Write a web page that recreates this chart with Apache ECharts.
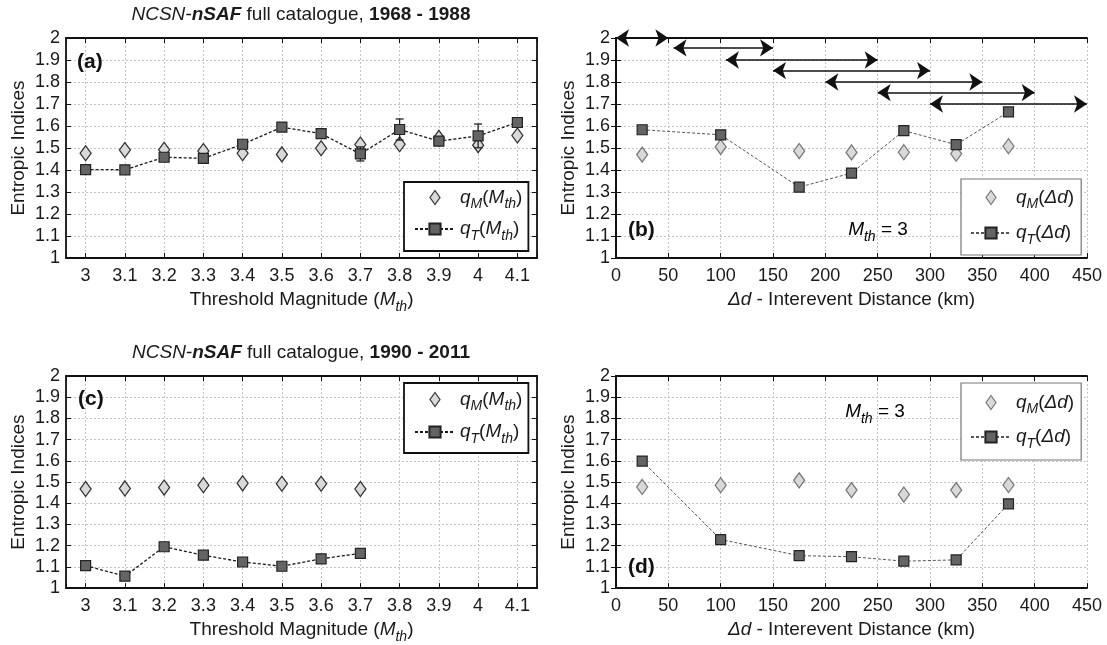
<!DOCTYPE html>
<html>
<head>
<meta charset="utf-8">
<script src="https://cdn.jsdelivr.net/npm/echarts@6/dist/echarts.min.js"></script>
<style>html,body{margin:0;padding:0;background:#fff;}#c{width:1107px;height:645px;}</style>
</head>
<body>
<div id="c"></div>
<script>
// ---------------- data ----------------
const magA = [3, 3.1, 3.2, 3.3, 3.4, 3.5, 3.6, 3.7, 3.8, 3.9, 4.0, 4.1];
const qM_A = [1.476, 1.491, 1.492, 1.486, 1.476, 1.471, 1.499, 1.516, 1.517, 1.546, 1.513, 1.557];
const qT_A = [1.402, 1.401, 1.458, 1.453, 1.517, 1.595, 1.565, 1.473, 1.584, 1.531, 1.555, 1.616];
const qT_A_err = [0, 0, 0, 0, 0, 0, 0, 0.032, 0.048, 0, 0.054, 0];

const distB = [25, 100, 175, 225, 275, 325, 375];
const qM_B = [1.470, 1.505, 1.486, 1.480, 1.481, 1.474, 1.508];
const qT_B = [1.583, 1.560, 1.322, 1.386, 1.579, 1.515, 1.664];
const arrowStartB = [0, 55, 105, 150, 200, 250, 300];
const arrowEndB = [50, 150, 250, 300, 350, 400, 450];
const arrowLevelB = [2.0, 1.955, 1.9, 1.852, 1.8, 1.752, 1.7];

const magC = [3, 3.1, 3.2, 3.3, 3.4, 3.5, 3.6, 3.7];
const qM_C = [1.467, 1.470, 1.474, 1.485, 1.494, 1.492, 1.492, 1.467];
const qT_C = [1.106, 1.056, 1.195, 1.155, 1.123, 1.103, 1.138, 1.164];

const distD = [25, 100, 175, 225, 275, 325, 375];
const qM_D = [1.477, 1.485, 1.508, 1.462, 1.441, 1.462, 1.486];
const qT_D = [1.599, 1.229, 1.153, 1.148, 1.127, 1.133, 1.397];

const yMin = 1, yMax = 2, yStep = 0.1;
const distMin = 0, distMax = 450, distStep = 50;
const magMin = 2.95, magMax = 4.15;

// ---------------- styles ----------------
const FONT = '"Liberation Sans", Arial, Helvetica, sans-serif';
const TXT = '#1a1a1a';
const FS = 18;
const FN = 19;

function richSet(fs, sub) {
  return {
    n: { fontSize: fs, fontFamily: FONT, color: TXT, fontWeight: 'normal', lineHeight: 28, verticalAlign: 'middle' },
    q: { fontSize: fs, fontFamily: FONT, color: TXT, fontWeight: 'normal', fontStyle: 'italic', lineHeight: 28, verticalAlign: 'middle' },
    s: { fontSize: sub, fontFamily: FONT, color: TXT, fontWeight: 'normal', fontStyle: 'italic', lineHeight: 14, verticalAlign: 'bottom' }
  };
}
const richName = richSet(FN, 14);
const richLegend = richSet(19, 14);

const legendLabels = {
  qM_a: '{q|q}{s|M}{n|(}{q|M}{s|th}{n|)}',
  qT_a: '{q|q}{s|T}{n|(}{q|M}{s|th}{n|)}',
  qM_c: '{q|q}{s|M}{n|(}{q|M}{s|th}{n|)}',
  qT_c: '{q|q}{s|T}{n|(}{q|M}{s|th}{n|)}',
  qM_b: '{q|q}{s|M}{n|(}{q|Δd}{n|)}',
  qT_b: '{q|q}{s|T}{n|(}{q|Δd}{n|)}',
  qM_d: '{q|q}{s|M}{n|(}{q|Δd}{n|)}',
  qT_d: '{q|q}{s|T}{n|(}{q|Δd}{n|)}'
};

const grids = [
  { left: 66, top: 38, width: 471, height: 220 },
  { left: 616, top: 38, width: 471, height: 220 },
  { left: 66, top: 376, width: 471, height: 220 },
  { left: 616, top: 376, width: 471, height: 220 }
];

const splitLineStyle = { show: true, lineStyle: { color: '#c4c4c4', type: [2, 2], width: 1 } };
const labelStyle = { fontSize: FS, fontFamily: FONT, color: TXT };
const axisLineStyle = { show: true, lineStyle: { color: '#111', width: 1.8 } };

function magLabel(v) {
  const t = v * 10;
  if (Math.abs(Math.round(t) - t) > 1e-6) return '';
  return String(Math.round(t) / 10);
}

const xNameMag = 'Threshold Magnitude ({q|M}{s|th}{n|)}';
const xNameDist = '{q|Δd}{n| - Interevent Distance (km)}';

function xAxisMain(gi, isMag, name) {
  const a = {
    type: 'value', gridIndex: gi, position: 'bottom',
    min: isMag ? magMin : distMin, max: isMag ? magMax : distMax,
    axisLine: axisLineStyle,
    axisTick: { show: true, inside: true, length: 5, lineStyle: { color: '#111' } },
    axisLabel: Object.assign({ margin: 9, formatter: isMag ? magLabel : '{value}' }, labelStyle),
    splitLine: splitLineStyle,
    name: name, nameLocation: 'middle', nameGap: 25,
    nameTextStyle: { rich: richName, lineHeight: 28, fontSize: FN, fontFamily: FONT, color: TXT }
  };
  if (isMag) { a.splitNumber = 12; } else { a.interval = distStep; }
  return a;
}
function xAxisTop(gi, isMag) {
  const a = {
    type: 'value', gridIndex: gi, position: 'top',
    min: isMag ? magMin : distMin, max: isMag ? magMax : distMax,
    axisLine: axisLineStyle,
    axisTick: { show: true, inside: true, length: 5, lineStyle: { color: '#111' } },
    axisLabel: { show: false }, splitLine: { show: false }
  };
  if (isMag) { a.splitNumber = 12; } else { a.interval = distStep; }
  return a;
}
function yAxisMain(gi) {
  return {
    type: 'value', gridIndex: gi, position: 'left', min: yMin, max: yMax, interval: yStep,
    axisLine: axisLineStyle,
    axisTick: { show: true, inside: true, length: 5, lineStyle: { color: '#111' } },
    axisLabel: Object.assign({ margin: 6 }, labelStyle),
    splitLine: splitLineStyle,
    name: 'Entropic Indices', nameLocation: 'middle', nameGap: 38,
    nameTextStyle: { fontSize: FN, fontFamily: FONT, color: TXT }
  };
}
function yAxisRight(gi) {
  return {
    type: 'value', gridIndex: gi, position: 'right', min: yMin, max: yMax, interval: yStep,
    axisLine: axisLineStyle,
    axisTick: { show: true, inside: true, length: 5, lineStyle: { color: '#111' } },
    axisLabel: { show: false }, splitLine: { show: false }
  };
}

function diamondSeries(name, gi, xs, ys, border) {
  return {
    type: 'scatter', name: name, xAxisIndex: gi, yAxisIndex: gi, z: 3,
    symbol: 'diamond', symbolSize: [11, 15],
    itemStyle: { color: '#d9d9d9', borderColor: border, borderWidth: 1.3, opacity: 1 },
    data: xs.map((x, i) => [x, ys[i]])
  };
}
function squareSeries(name, gi, xs, ys, lineColor, lineWidth) {
  return {
    type: 'line', name: name, xAxisIndex: gi, yAxisIndex: gi, z: 5,
    symbol: 'rect', symbolSize: 10, showAllSymbol: true,
    lineStyle: { color: lineColor, width: lineWidth, type: [3, 2] },
    itemStyle: { color: '#646464', borderColor: '#222', borderWidth: 1.2 },
    data: xs.map((x, i) => [x, ys[i]])
  };
}

function legendFor(names, left, top, border, bw, pad, gap) {
  return {
    orient: 'vertical', left: left, top: top, padding: pad, itemGap: gap,
    itemWidth: 40, itemHeight: 14,
    backgroundColor: '#fff', borderColor: border, borderWidth: bw, borderRadius: 0,
    selectedMode: false,
    data: [
      { name: names[0], icon: 'path://M5,0L10,7L5,14L0,7Z', itemStyle: { color: '#d9d9d9', borderColor: names[2], borderWidth: 1.2 } },
      { name: names[1] }
    ],
    formatter: n => legendLabels[n],
    textStyle: { rich: richLegend, fontSize: 19, fontFamily: FONT, color: TXT }
  };
}

const titleRich = {
  i: { fontSize: FN, fontFamily: FONT, color: TXT, fontStyle: 'italic', fontWeight: 'normal' },
  bi: { fontSize: FN, fontFamily: FONT, color: TXT, fontStyle: 'italic', fontWeight: 'bold' },
  n: { fontSize: FN, fontFamily: FONT, color: TXT, fontWeight: 'normal' },
  b: { fontSize: FN, fontFamily: FONT, color: TXT, fontWeight: 'bold' }
};

const arrowData = arrowStartB.map((s, i) => ({ coords: [[s, arrowLevelB[i]], [arrowEndB[i], arrowLevelB[i]]] }));

const option = {
  animation: false,
  backgroundColor: '#fff',
  title: [
    { left: 301, top: 5, textAlign: 'center', padding: 0, text: '{i|NCSN-}{bi|nSAF}{n| full catalogue, }{b|1968 - 1988}', textStyle: { fontWeight: 'normal', rich: titleRich } },
    { left: 301, top: 343, textAlign: 'center', padding: 0, text: '{i|NCSN-}{bi|nSAF}{n| full catalogue, }{b|1990 - 2011}', textStyle: { fontWeight: 'normal', rich: titleRich } }
  ],
  grid: grids.map(g => Object.assign({ show: false }, g)),
  xAxis: [
    xAxisMain(0, true, xNameMag), xAxisMain(1, false, xNameDist), xAxisMain(2, true, xNameMag), xAxisMain(3, false, xNameDist),
    xAxisTop(0, true), xAxisTop(1, false), xAxisTop(2, true), xAxisTop(3, false)
  ],
  yAxis: [yAxisMain(0), yAxisMain(1), yAxisMain(2), yAxisMain(3), yAxisRight(0), yAxisRight(1), yAxisRight(2), yAxisRight(3)],
  legend: [
    legendFor(['qM_a', 'qT_a', '#333'], 404, 182, '#111', 1.8, [6, 6, 8, 10], 8),
    legendFor(['qM_b', 'qT_b', '#777'], 961, 179, '#777', 1.2, [9, 7, 8, 9], 12),
    legendFor(['qM_c', 'qT_c', '#333'], 404, 383, '#111', 1.8, [7, 6, 7, 10], 9),
    legendFor(['qM_d', 'qT_d', '#777'], 961, 383, '#777', 1.2, [10, 7, 9, 9], 11)
  ],
  series: [
    diamondSeries('qM_a', 0, magA, qM_A, '#333'),
    squareSeries('qT_a', 0, magA, qT_A, '#1a1a1a', 1.3),
    {
      type: 'custom', name: 'errA', xAxisIndex: 0, yAxisIndex: 0, z: 4,
      data: magA.map((x, i) => [x, qT_A[i], qT_A_err[i]]),
      encode: { x: 0, y: 1 },
      renderItem: function (params, api) {
        const x = api.value(0), y = api.value(1), e = api.value(2);
        if (!e) return null;
        const t = api.coord([x, y + e]), b = api.coord([x, y - e]);
        const w = 4, st = { stroke: '#222', lineWidth: 1.3 };
        return { type: 'group', children: [
          { type: 'line', shape: { x1: t[0], y1: t[1], x2: b[0], y2: b[1] }, style: st },
          { type: 'line', shape: { x1: t[0] - w, y1: t[1], x2: t[0] + w, y2: t[1] }, style: st },
          { type: 'line', shape: { x1: b[0] - w, y1: b[1], x2: b[0] + w, y2: b[1] }, style: st }
        ] };
      }
    },
    diamondSeries('qM_b', 1, distB, qM_B, '#7a7a7a'),
    squareSeries('qT_b', 1, distB, qT_B, '#555', 1),
    {
      type: 'lines', coordinateSystem: 'cartesian2d', xAxisIndex: 1, yAxisIndex: 1, z: 6,
      clip: false, polyline: false,
      symbol: ['arrow', 'arrow'], symbolSize: 13,
      lineStyle: { color: '#111', width: 1.6, opacity: 1 },
      data: arrowData
    },
    diamondSeries('qM_c', 2, magC, qM_C, '#333'),
    squareSeries('qT_c', 2, magC, qT_C, '#1a1a1a', 1.3),
    diamondSeries('qM_d', 3, distD, qM_D, '#7a7a7a'),
    squareSeries('qT_d', 3, distD, qT_D, '#555', 1)
  ],
  graphic: [
    { type: 'text', x: 77, y: 62, z: 10, style: { text: '(a)', font: 'bold 21px ' + FONT, fill: '#111', verticalAlign: 'middle' } },
    { type: 'text', x: 628, y: 230, z: 10, style: { text: '(b)', font: 'bold 21px ' + FONT, fill: '#111', verticalAlign: 'middle' } },
    { type: 'text', x: 78, y: 399, z: 10, style: { text: '(c)', font: 'bold 21px ' + FONT, fill: '#111', verticalAlign: 'middle' } },
    { type: 'text', x: 628, y: 567, z: 10, style: { text: '(d)', font: 'bold 21px ' + FONT, fill: '#111', verticalAlign: 'middle' } },
    { type: 'text', x: 878, y: 230, z: 10, style: { text: '{q|M}{s|th}{n| = 3}', rich: richName, align: 'center', verticalAlign: 'middle' } },
    { type: 'text', x: 875, y: 412, z: 10, style: { text: '{q|M}{s|th}{n| = 3}', rich: richName, align: 'center', verticalAlign: 'middle' } }
  ]
};

const chart = echarts.init(document.getElementById('c'), null, { renderer: 'canvas' });
chart.setOption(option);
</script>
</body>
</html>
